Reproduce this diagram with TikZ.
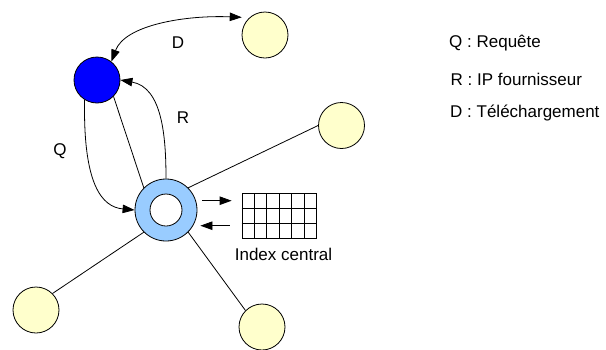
\documentclass[tikz,border=0pt]{standalone}
\usepackage{fontspec}
\setmainfont{Liberation Sans}
\usetikzlibrary{arrows.meta,calc}
\definecolor{peerfill}{HTML}{FFFFCC}
\definecolor{ringfill}{HTML}{99CCFF}
\definecolor{clientfill}{HTML}{0000FF}
\begin{document}
\begin{tikzpicture}[x=1pt,y=1pt,
  every node/.style={font=\fontsize{17}{20}\selectfont},
  peer/.style={circle,draw,fill=peerfill,minimum size=46pt,inner sep=0pt,line width=0.8pt},
  client/.style={circle,draw,fill=clientfill,minimum size=46pt,inner sep=0pt,line width=0.8pt},
  link/.style={line width=0.8pt},
  arr/.style={line width=0.8pt,-{Triangle[length=12pt,width=8.5pt]}},
  dblarr/.style={line width=0.8pt,{Triangle[length=12pt,width=8.5pt]}-{Triangle[length=12pt,width=8.5pt]}},
  legend/.style={anchor=base west,inner sep=0pt}]
\useasboundingbox (0,0) rectangle (606,-349);

% peers
\node[peer] (ptop) at (265,-35) {};
\node[peer] (pright) at (341.5,-125.5) {};
\node[peer] (pleft) at (36,-310) {};
\node[peer] (pbottom) at (262,-327) {};
\node[client] (client) at (97,-80) {};

% central server (ring)
\node[circle,draw,fill=ringfill,minimum size=62pt,inner sep=0pt,line width=0.8pt] (server) at (166,-210) {};
\node[circle,draw,fill=white,minimum size=32pt,inner sep=0pt,line width=0.8pt] (hole) at (server) {};

% central index table
\node[draw,line width=0.8pt,minimum width=74pt,minimum height=45pt,inner sep=0pt] (index) at (279,-216) {};
\foreach \i in {1,...,5}
  \draw[line width=0.8pt] ($(index.north west)!\i/6!(index.north east)$) -- ($(index.south west)!\i/6!(index.south east)$);
\foreach \j in {1,2}
  \draw[line width=0.8pt] ($(index.north west)!\j/3!(index.south west)$) -- ($(index.north east)!\j/3!(index.south east)$);
\node[anchor=base,inner sep=0pt] (idxlabel) at (283.5,-260) {Index central};

% links from the server
\draw[link] (client.-45) -- (server.135);
\draw[link] (server.45) -- (pright.180);
\draw[link] (server.225) -- (pleft.45);
\draw[link] (server.-45) -- (pbottom.135);

% query, reply, download
\draw[arr] (client.-122) .. controls (83,-185) and (102,-207) .. (server.west);
\draw[arr] (server.north) to[out=90,in=-10] (client.east);
\coordinate (dend) at ($(ptop.150)+(-3,6)$);
\draw[dblarr] (client.52) .. controls (125,-25) and (185,-15) .. (dend);

% exchanges with the index
\draw[arr] ($(server.east)+(5,9.3)$) -- ($(index.west)+(-10,15.3)$);
\draw[arr] ($(index.west)+(-12,-9.7)$) -- ($(server.east)+(3,-15.7)$);

% edge labels
\node (lblD) at (178,-43) {D};
\node (lblR) at (183,-118) {R};
\node (lblQ) at (60,-151) {Q};

% legend
\node[legend] (legQ) at (449,-47) {Q : Requête};
\node[legend] (legR) at (450.5,-85) {R : IP fournisseur};
\node[legend] (legD) at (450,-117) {D : Téléchargement};
\end{tikzpicture}
\end{document}
